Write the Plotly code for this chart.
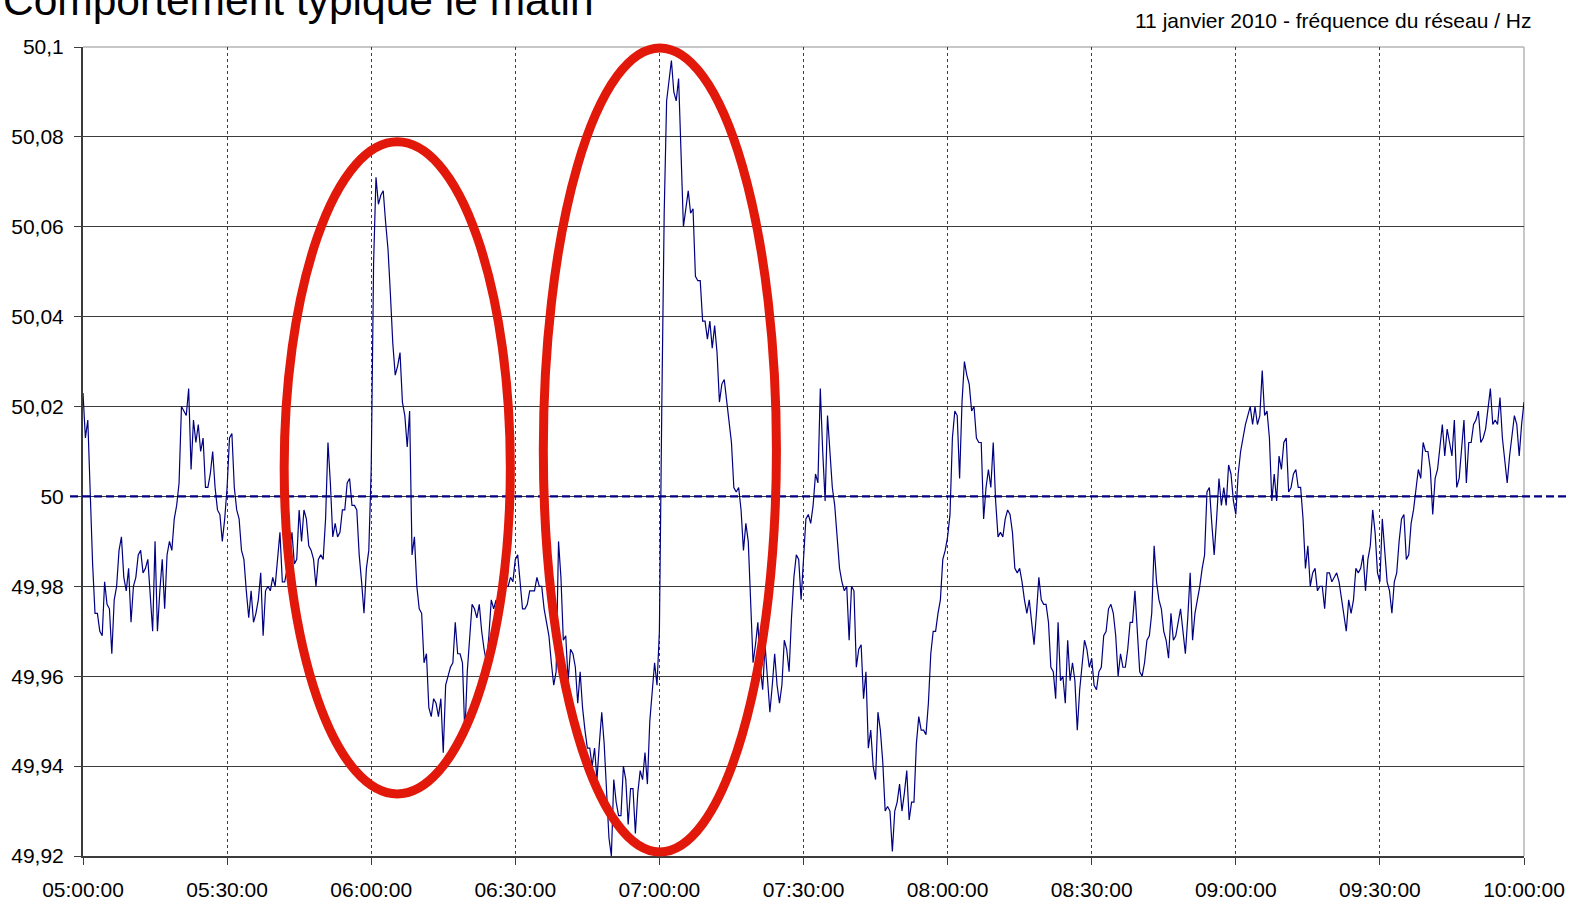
import pandas as pd
import plotly.graph_objects as go

# Grid frequency, 11 January 2010, one reading every 30 s (Hz)
START = "2010-01-11 05:00:00"
STEP = "30s"

freq_05h = [
    50.023, 50.013, 50.017, 50.001, 49.985, 49.974, 49.974, 49.970, 49.969, 49.981,
    49.976, 49.975, 49.965, 49.977, 49.980, 49.988, 49.991, 49.982, 49.979, 49.984,
    49.972, 49.980, 49.982, 49.987, 49.988, 49.983, 49.984, 49.986, 49.979, 49.970,
    49.990, 49.970, 49.979, 49.986, 49.975, 49.987, 49.990, 49.988, 49.995, 49.998,
    50.003, 50.020, 50.019, 50.018, 50.024, 50.006, 50.017, 50.012, 50.016, 50.010,
    50.013, 50.002, 50.002, 50.005, 50.010, 50.002, 49.997, 49.996, 49.990, 49.995,
    50.002, 50.013, 50.014, 50.002, 49.997, 49.995, 49.988, 49.986, 49.979, 49.973,
    49.979, 49.972, 49.974, 49.977, 49.983, 49.969, 49.979, 49.980, 49.979, 49.982,
    49.980, 49.987, 49.992, 49.981, 49.981, 49.984, 49.988, 49.992, 49.985, 49.986,
    49.997, 49.990, 49.997, 49.995, 49.989, 49.988, 49.986, 49.980, 49.986, 49.987,
    49.986, 49.995, 50.012, 50.003, 49.991, 49.994, 49.991, 49.992, 49.997, 49.997,
    50.003, 50.004, 49.998, 49.998, 49.997, 49.987, 49.981, 49.974, 49.984, 49.988,
]
freq_06h = [
    50.006, 50.052, 50.071, 50.065, 50.067, 50.068, 50.061, 50.055, 50.045, 50.034,
    50.027, 50.029, 50.032, 50.021, 50.018, 50.011, 50.019, 49.987, 49.991, 49.980,
    49.975, 49.974, 49.963, 49.965, 49.953, 49.951, 49.955, 49.954, 49.951, 49.955,
    49.943, 49.958, 49.960, 49.962, 49.963, 49.972, 49.965, 49.965, 49.963, 49.947,
    49.961, 49.968, 49.976, 49.975, 49.973, 49.976, 49.970, 49.966, 49.963, 49.969,
    49.977, 49.975, 49.977, 49.970, 49.976, 49.977, 49.980, 49.980, 49.982, 49.981,
    49.986, 49.987, 49.980, 49.975, 49.975, 49.976, 49.979, 49.979, 49.979, 49.982,
    49.980, 49.980, 49.975, 49.972, 49.969, 49.963, 49.958, 49.961, 49.990, 49.982,
    49.968, 49.969, 49.959, 49.966, 49.965, 49.962, 49.954, 49.961, 49.953, 49.948,
    49.944, 49.944, 49.940, 49.944, 49.937, 49.945, 49.952, 49.945, 49.933, 49.924,
    49.920, 49.937, 49.932, 49.929, 49.929, 49.940, 49.937, 49.927, 49.935, 49.935,
    49.925, 49.934, 49.939, 49.937, 49.943, 49.936, 49.950, 49.957, 49.963, 49.958,
]
freq_07h = [
    49.970, 50.020, 50.063, 50.088, 50.092, 50.097, 50.090, 50.088, 50.093, 50.078,
    50.060, 50.064, 50.068, 50.063, 50.064, 50.049, 50.048, 50.048, 50.039, 50.039,
    50.035, 50.039, 50.033, 50.038, 50.032, 50.021, 50.025, 50.026, 50.021, 50.017,
    50.012, 50.002, 50.001, 50.002, 49.997, 49.988, 49.994, 49.990, 49.974, 49.963,
    49.967, 49.972, 49.962, 49.957, 49.967, 49.959, 49.952, 49.958, 49.965, 49.958,
    49.954, 49.958, 49.968, 49.966, 49.961, 49.973, 49.982, 49.987, 49.986, 49.977,
    49.986, 49.995, 49.996, 49.994, 49.998, 50.005, 50.003, 50.024, 50.010, 49.999,
    50.018, 50.009, 50.002, 49.998, 49.990, 49.984, 49.981, 49.979, 49.980, 49.968,
    49.980, 49.979, 49.962, 49.966, 49.967, 49.955, 49.961, 49.944, 49.948, 49.940,
    49.937, 49.952, 49.948, 49.941, 49.930, 49.931, 49.930, 49.921, 49.930, 49.932,
    49.936, 49.930, 49.934, 49.939, 49.928, 49.932, 49.932, 49.945, 49.951, 49.948,
    49.948, 49.947, 49.954, 49.965, 49.970, 49.970, 49.974, 49.977, 49.986, 49.988,
]
freq_08h = [
    49.991, 49.996, 50.013, 50.019, 50.018, 50.004, 50.021, 50.030, 50.027, 50.025,
    50.019, 50.020, 50.013, 50.012, 50.012, 49.995, 50.002, 50.006, 50.002, 50.012,
    49.999, 49.991, 49.992, 49.991, 49.995, 49.997, 49.996, 49.992, 49.984, 49.983,
    49.984, 49.981, 49.977, 49.974, 49.977, 49.972, 49.967, 49.974, 49.982, 49.977,
    49.976, 49.976, 49.972, 49.962, 49.961, 49.955, 49.972, 49.959, 49.960, 49.954,
    49.968, 49.959, 49.963, 49.959, 49.948, 49.957, 49.963, 49.968, 49.966, 49.962,
    49.964, 49.958, 49.957, 49.961, 49.962, 49.969, 49.970, 49.975, 49.976, 49.974,
    49.969, 49.960, 49.965, 49.962, 49.962, 49.966, 49.972, 49.972, 49.979, 49.969,
    49.961, 49.960, 49.963, 49.968, 49.969, 49.974, 49.989, 49.981, 49.977, 49.975,
    49.970, 49.968, 49.964, 49.974, 49.968, 49.969, 49.972, 49.975, 49.970, 49.965,
    49.973, 49.983, 49.968, 49.974, 49.977, 49.980, 49.984, 49.987, 50.001, 50.002,
    49.994, 49.987, 49.995, 50.004, 49.998, 50.002, 49.998, 50.007, 50.005, 49.999,
]
freq_09h = [
    49.996, 50.005, 50.010, 50.013, 50.016, 50.018, 50.020, 50.016, 50.020, 50.016,
    50.018, 50.028, 50.018, 50.019, 50.013, 49.999, 50.005, 49.999, 50.009, 50.006,
    50.012, 50.013, 50.001, 50.002, 50.005, 50.006, 50.002, 50.002, 49.995, 49.984,
    49.989, 49.980, 49.983, 49.984, 49.979, 49.980, 49.980, 49.975, 49.983, 49.983,
    49.981, 49.982, 49.983, 49.981, 49.977, 49.973, 49.970, 49.977, 49.974, 49.977,
    49.984, 49.983, 49.984, 49.987, 49.979, 49.986, 49.989, 49.997, 49.992, 49.983,
    49.981, 49.995, 49.987, 49.981, 49.979, 49.974, 49.981, 49.983, 49.990, 49.995,
    49.996, 49.986, 49.987, 49.994, 49.997, 50.002, 50.006, 50.004, 50.012, 50.010,
    50.010, 50.006, 49.996, 50.004, 50.006, 50.011, 50.016, 50.009, 50.015, 50.012,
    50.009, 50.017, 50.002, 50.004, 50.011, 50.017, 50.003, 50.012, 50.012, 50.016,
    50.017, 50.019, 50.012, 50.013, 50.015, 50.020, 50.024, 50.016, 50.017, 50.016,
    50.022, 50.013, 50.008, 50.003, 50.009, 50.013, 50.018, 50.016, 50.009, 50.016,
    50.021,
]

FREQ_NOMINAL = 50.0

Y_MIN, Y_MAX = 49.92, 50.1
Y_TICKS = [49.92, 49.94, 49.96, 49.98, 50.0, 50.02, 50.04, 50.06, 50.08, 50.1]
Y_LABELS = ["49,92", "49,94", "49,96", "49,98", "50", "50,02", "50,04", "50,06", "50,08", "50,1"]

X_LABELS = ["05:00:00", "05:30:00", "06:00:00", "06:30:00", "07:00:00", "07:30:00",
            "08:00:00", "08:30:00", "09:00:00", "09:30:00", "10:00:00"]

TITLE = "Comportement typique le matin"
SUBTITLE = "11 janvier 2010 - fréquence du réseau / Hz"

# Highlighted episodes: (start, end, low frequency, high frequency)
HIGHLIGHTS = [
    ("05:41:53", "06:28:58", 49.9338, 50.0789),
    ("06:35:50", "07:24:22", 49.9209, 50.0998),
]

values = freq_05h + freq_06h + freq_07h + freq_08h + freq_09h
times = pd.date_range(START, periods=len(values), freq=STEP)

DAY = "2010-01-11 "
x_start = pd.Timestamp(DAY + X_LABELS[0])
x_end = pd.Timestamp(DAY + X_LABELS[-1])
x_ticks = [pd.Timestamp(DAY + t) for t in X_LABELS]


def x_paper(hms):
    t = pd.Timestamp(DAY + hms)
    return (t - x_start) / (x_end - x_start)


def y_paper(v):
    return (v - Y_MIN) / (Y_MAX - Y_MIN)


FONT = "Liberation Sans, Arial, sans-serif"
NAVY = "#000080"
RED = "#E2190A"

fig = go.Figure()
fig.add_trace(go.Scatter(
    x=times, y=values, mode="lines",
    line=dict(color=NAVY, width=1.2),
    showlegend=False, hoverinfo="x+y",
))

shapes = [
    # light frame on the top and right edges of the plot area
    dict(type="line", xref="paper", yref="paper", x0=0, x1=1, y0=1, y1=1,
         line=dict(color="#b4b4b4", width=1.5), layer="between"),
    dict(type="line", xref="paper", yref="paper", x0=1, x1=1, y0=0, y1=1,
         line=dict(color="#b4b4b4", width=1.5), layer="between"),
    # nominal frequency reference
    dict(type="line", xref="paper", yref="paper", x0=-0.009, x1=1.031,
         y0=y_paper(FREQ_NOMINAL), y1=y_paper(FREQ_NOMINAL),
         line=dict(color=NAVY, width=2.2, dash="8px,4px"), layer="above"),
]
for t0, t1, f_lo, f_hi in HIGHLIGHTS:
    shapes.append(dict(
        type="circle", xref="paper", yref="paper",
        x0=x_paper(t0), x1=x_paper(t1), y0=y_paper(f_lo), y1=y_paper(f_hi),
        line=dict(color=RED, width=9), fillcolor="rgba(0,0,0,0)", layer="above",
    ))

axis_common = dict(
    showgrid=True, gridcolor="#3c3c3c", gridwidth=1,
    showline=True, linecolor="#3c3c3c", linewidth=2,
    ticks="outside", ticklen=7, tickcolor="#3c3c3c", tickwidth=1,
    zeroline=False, automargin=False,
    tickfont=dict(family=FONT, size=21, color="black"),
)

fig.update_layout(
    width=1572, height=902,
    margin=dict(l=83, r=48, t=47, b=46, autoexpand=False),
    paper_bgcolor="white", plot_bgcolor="white",
    font=dict(family=FONT, size=21, color="black"),
    shapes=shapes,
    annotations=[
        dict(text=TITLE, xref="paper", yref="paper", x=0, y=1,
             xanchor="left", yanchor="middle", xshift=-82, yshift=47,
             showarrow=False, font=dict(family=FONT, size=42.5, color="black")),
        dict(text=SUBTITLE, xref="paper", yref="paper", x=1, y=1,
             xanchor="right", yanchor="middle", xshift=10, yshift=27,
             showarrow=False, font=dict(family=FONT, size=21, color="black")),
    ],
    xaxis=dict(
        type="date", range=[x_start, x_end],
        tickvals=x_ticks, ticktext=X_LABELS,
        griddash="dot", ticklabelstandoff=7,
        **axis_common,
    ),
    yaxis=dict(
        range=[Y_MIN, Y_MAX],
        tickvals=Y_TICKS, ticktext=Y_LABELS,
        ticklabelstandoff=6,
        **axis_common,
    ),
)

fig.write_html("out.html")
